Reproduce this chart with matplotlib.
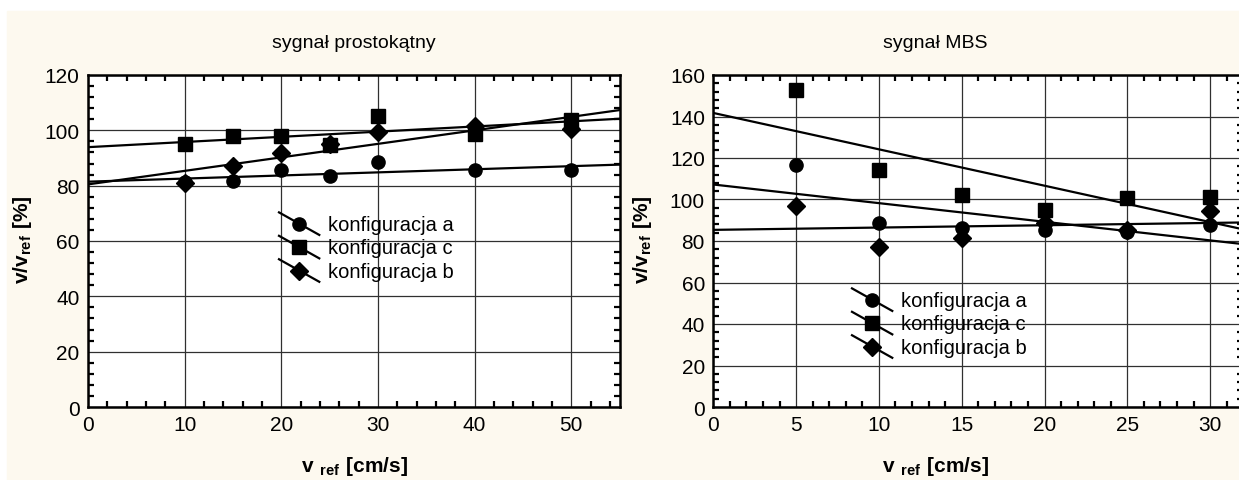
import numpy as np
import matplotlib
matplotlib.use('Agg')
import matplotlib.pyplot as plt
from matplotlib.lines import Line2D
from matplotlib.patches import Rectangle
from matplotlib.legend_handler import HandlerLine2D
from matplotlib.ticker import MultipleLocator

plt.rcParams['font.family'] = ['Liberation Sans', 'DejaVu Sans']
plt.rcParams['mathtext.fontset'] = 'custom'
plt.rcParams['mathtext.rm'] = 'Liberation Sans'
plt.rcParams['mathtext.bf'] = 'Liberation Sans:bold'

# sygnał prostokątny
x_prost = [10, 15, 20, 25, 30, 40, 50]
prost_a = [81.2, 81.6, 85.5, 83.6, 88.5, 85.5, 85.5]
prost_c = [94.9, 97.8, 97.8, 94.8, 105.2, 98.8, 103.6]
prost_b = [80.9, 87.1, 91.7, 94.9, 99.4, 101.6, 100.4]

# sygnał MBS
x_mbs = [5, 10, 15, 20, 25, 30]
mbs_a = [116.6, 88.6, 86.2, 85.5, 84.3, 87.9]
mbs_c = [152.9, 114.2, 102.4, 94.8, 100.8, 101.1]
mbs_b = [96.8, 77.3, 81.3, 88.7, 85.5, 94.3]

etykiety = ['konfiguracja a', 'konfiguracja c', 'konfiguracja b']
markery = ['o', 's', 'D']


class SkosHandler(HandlerLine2D):
    # linia legendy rysowana ukośnie, jak w STATISTICA
    def create_artists(self, legend, orig_handle, xdescent, ydescent,
                       width, height, fontsize, trans):
        x0, x1 = -xdescent, -xdescent + width
        y0, y1 = -ydescent + height * 1.25, -ydescent - height * 0.35
        seg = Line2D([x0, x1], [y0, y1], color='black', lw=1.6, transform=trans)
        mk = Line2D([(x0 + x1) / 2], [(y0 + y1) / 2], ls='none',
                    marker=orig_handle.get_marker(),
                    markersize=orig_handle.get_markersize(),
                    color='black', transform=trans)
        return [seg, mk]


def rysuj(ax, x, serie, xmax, ymax, xmaj, xmin, ymin_step):
    uchwyty = []
    for y, m in zip(serie, markery):
        ms = 9.0 if m == 'D' else 9.5
        h, = ax.plot(x, y, ls='none', marker=m, ms=ms, color='black', zorder=4)
        a, b = np.polyfit(x, y, 1)
        xx = np.array([0, xmax])
        ax.plot(xx, a * xx + b, color='black', lw=1.6, zorder=3)
        uchwyty.append(h)
    ax.set_xlim(0, xmax)
    ax.set_ylim(0, ymax)
    ax.xaxis.set_major_locator(MultipleLocator(xmaj))
    ax.xaxis.set_minor_locator(MultipleLocator(xmin))
    ax.yaxis.set_major_locator(MultipleLocator(20))
    ax.yaxis.set_minor_locator(MultipleLocator(ymin_step))
    ax.grid(True, which='major', color='#303030', lw=0.9)
    ax.tick_params(which='both', direction='in', top=True, right=True,
                   labelsize=15, width=1.6)
    ax.tick_params(which='major', length=0, pad=6)
    ax.tick_params(which='minor', length=4)
    for s in ax.spines.values():
        s.set_linewidth(1.8)
    return uchwyty


fig = plt.figure(figsize=(12.39, 4.81), dpi=100, facecolor='white')
fig.patches.append(Rectangle((7 / 1239, 0), 1, 1 - 12 / 481,
                             transform=fig.transFigure, color='#fdf9ef', zorder=-10))

ax1 = fig.add_axes([88 / 1239, 1 - 408 / 481, 531.5 / 1239, 332 / 481])
ax2 = fig.add_axes([713.3 / 1239, 1 - 408 / 481, 32 * 16.56 / 1239, 332 / 481])

h1 = rysuj(ax1, x_prost, [prost_a, prost_c, prost_b], 55, 120, 10, 2, 4)
h2 = rysuj(ax2, x_mbs, [mbs_a, mbs_c, mbs_b], 32, 160, 5, 1, 4)

for ax, h, anc in [(ax1, h1, (279 / 1239, 1 - 216 / 481)),
                   (ax2, h2, (852 / 1239, 1 - 292 / 481))]:
    ax.legend(h, etykiety, loc='upper left', bbox_to_anchor=anc,
              bbox_transform=fig.transFigure, frameon=False, fontsize=14.5,
              handlelength=2.0, handletextpad=0.45, labelspacing=0.22,
              borderpad=0, borderaxespad=0,
              handler_map={Line2D: SkosHandler()})

fig.text(354 / 1239, 1 - 44 / 481, 'sygnał prostokątny', ha='center', va='center', fontsize=14)
fig.text(935 / 1239, 1 - 44 / 481, 'sygnał MBS', ha='center', va='center', fontsize=14)

xlab = r'$\mathbf{v\ _{ref}\ [cm/s]}$'
ylab = r'$\mathbf{v/v_{ref}\ [\%]}$'
fig.text(354 / 1239, 1 - 467 / 481, xlab, ha='center', va='center', fontsize=15)
fig.text(935 / 1239, 1 - 467 / 481, xlab, ha='center', va='center', fontsize=15)
fig.text(22 / 1239, 1 - 240 / 481, ylab, ha='center', va='center', rotation=90, fontsize=15)
fig.text(643 / 1239, 1 - 240 / 481, ylab, ha='center', va='center', rotation=90, fontsize=15)

fig.savefig('out.png', dpi=100, facecolor=fig.get_facecolor())
